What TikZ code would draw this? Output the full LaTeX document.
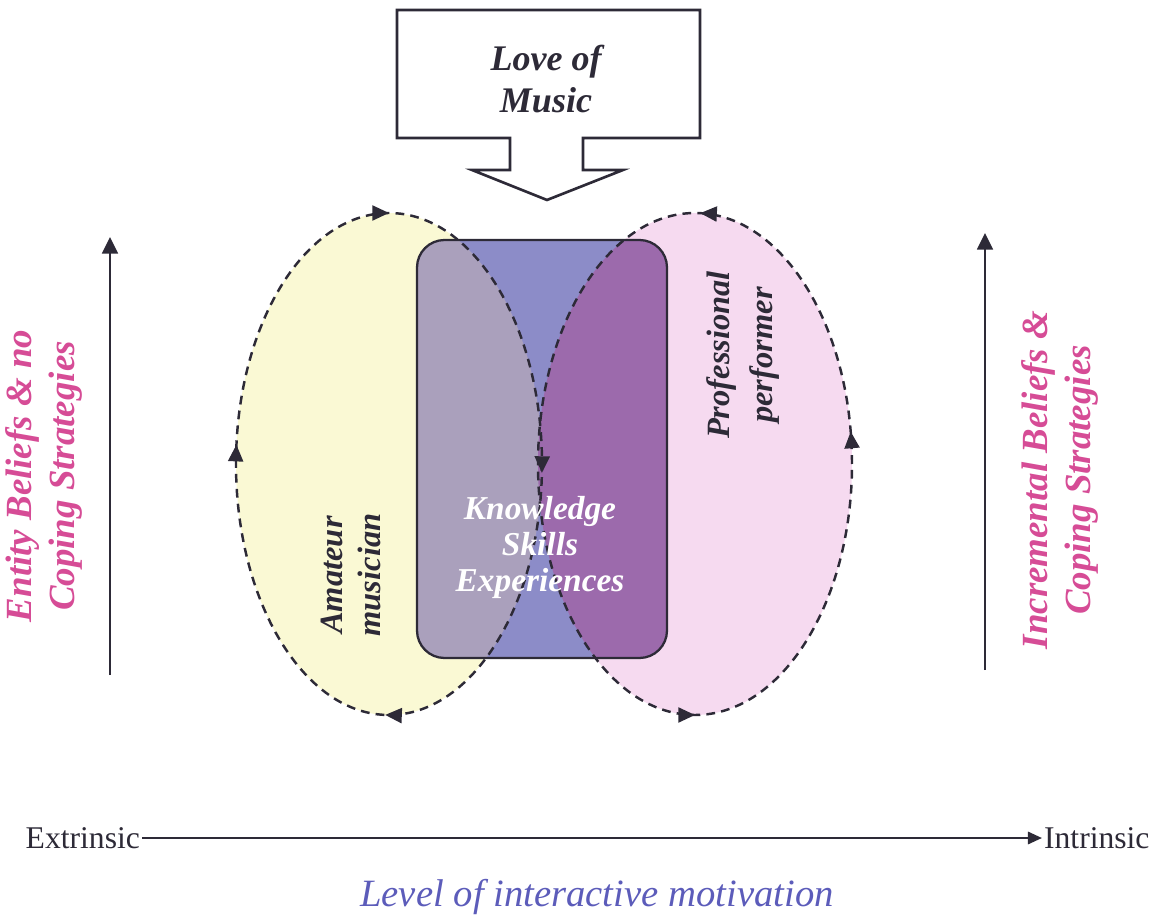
\documentclass[tikz,border=0pt]{standalone}
\usepackage{fontspec}
\setmainfont{Liberation Serif}
\usetikzlibrary{arrows.meta,decorations.markings}
\definecolor{yellowfill}{RGB}{250,249,212}
\definecolor{pinkfill}{RGB}{246,218,240}
\definecolor{bandblue}{RGB}{140,140,200}
\definecolor{leftmix}{RGB}{170,160,188}
\definecolor{rightmix}{RGB}{156,106,172}
\definecolor{inkc}{RGB}{45,42,55}
\definecolor{pinktext}{RGB}{214,76,150}
\definecolor{bluetext}{RGB}{92,92,186}
\tikzset{
  tipA/.tip={Triangle[length=9.5pt,width=8.5pt]},
  ellbase/.style={draw=inkc, line width=1.4pt, dash pattern=on 5pt off 3.5pt},
  ellL/.style={ellbase, postaction={decorate}, decoration={markings,
      mark=at position 0.015 with {\arrow{tipA}},
      mark=at position 0.25 with {\arrow{tipA}},
      mark=at position 0.507 with {\arrow{tipA}},
      mark=at position 0.753 with {\arrow{tipA}}}},
  ellR/.style={ellbase, postaction={decorate}, decoration={markings,
      mark=at position 0.025 with {\arrow{tipA}},
      mark=at position 0.246 with {\arrow{tipA}},
      mark=at position 0.75 with {\arrow{tipA}}}},
  boldlab/.style={font=\bfseries\itshape\fontsize{18.5}{22}\selectfont, align=center, inner sep=0pt},
  sidelab/.style={font=\bfseries\itshape\fontsize{21}{24.5}\selectfont, text=pinktext, align=center, inner sep=0pt, rotate=90},
  axis/.style={draw=inkc, line width=1.3pt, -{Triangle[length=9.5pt,width=9pt]}},
  haxis/.style={draw=inkc, line width=1.3pt, -{Triangle[length=8pt,width=7pt]}},
}
\begin{document}
\begin{tikzpicture}[x=0.02cm,y=0.02cm]
\useasboundingbox (0,0) rectangle (1161,921);
\coordinate (L) at (389,457);
\coordinate (R) at (695,457);
% ellipse fills
\fill[yellowfill] (L) ellipse[x radius=153, y radius=251];
\fill[pinkfill] (R) ellipse[x radius=157, y radius=251];
% central box and overlaps
\fill[bandblue, rounded corners=0.55cm] (417,263) rectangle (667,681);
\begin{scope}
  \clip (L) ellipse[x radius=153, y radius=251];
  \fill[leftmix, rounded corners=0.55cm] (417,263) rectangle (667,681);
\end{scope}
\begin{scope}
  \clip (R) ellipse[x radius=157, y radius=251];
  \fill[rightmix, rounded corners=0.55cm] (417,263) rectangle (667,681);
\end{scope}
\draw[inkc, line width=1.3pt, rounded corners=0.55cm] (417,263) rectangle (667,681);
% dashed ellipses
\path[ellL] (L) ++(-153,0) arc[start angle=180, end angle=-180, x radius=153, y radius=251];
\path[ellR] (R) ++(157,0) arc[start angle=0, end angle=360, x radius=157, y radius=251];
% love of music arrow box
\draw[inkc, line width=1.5pt, fill=white] (397,911) -- (700,911) -- (700,783) -- (583,783) -- (583,751) -- (623,751) -- (547,721) -- (472,751) -- (510,751) -- (510,783) -- (397,783) -- cycle;
\node[font=\bfseries\itshape\fontsize{20.5}{24}\selectfont, align=center, inner sep=0pt, text=inkc] (love) at (546,842) {Love of\\Music};
% texts
\node[boldlab, text=white, font=\bfseries\itshape\fontsize{19}{20.5}\selectfont] (kse) at (540,374) {Knowledge\\Skills\\Experiences};
\node[boldlab, rotate=90, text=inkc] (amateur) at (351,346) {Amateur\\musician};
\node[boldlab, rotate=90, text=inkc, font=\bfseries\itshape\fontsize{18.5}{24}\selectfont] (prof) at (743,566) {Professional\\performer};
\node[sidelab] (entity) at (44,445) {Entity Beliefs \& no\\Coping Strategies};
\node[sidelab] (incr) at (1060,441) {Incremental Beliefs \&\\Coping Strategies};
% vertical axes
\coordinate (lb) at (110,246);
\coordinate (lt) at (110,684);
\coordinate (rb) at (985,251);
\coordinate (rt) at (985,688);
\draw[axis] (lb) -- (lt);
\draw[axis] (rb) -- (rt);
% horizontal axis
\node[font=\fontsize{18}{20}\selectfont, anchor=east, inner sep=1pt, text=inkc] (ext) at (142,83) {Extrinsic};
\node[font=\fontsize{18}{20}\selectfont, anchor=west, inner sep=1pt, text=inkc] (intr) at (1042,83) {Intrinsic};
\draw[haxis] (ext.east) -- (intr.west);
\node[font=\itshape\fontsize{22}{24}\selectfont, text=bluetext, inner sep=0pt] (level) at (597,24) {Level of interactive motivation};
\end{tikzpicture}
\end{document}
